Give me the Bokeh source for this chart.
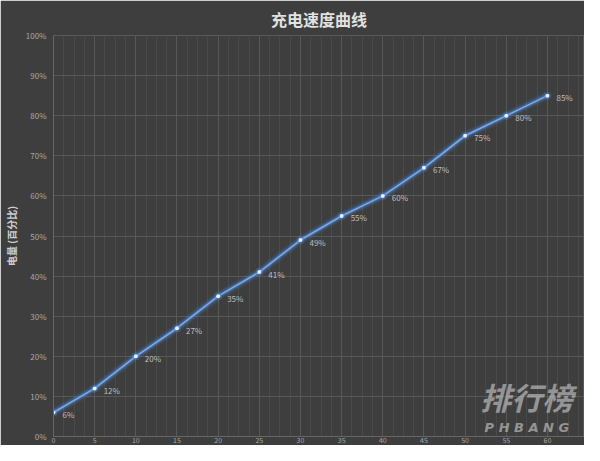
from bokeh.plotting import figure
from bokeh.models import ColumnDataSource, FixedTicker, Label, Range1d
from bokeh.embed import file_html
from bokeh.resources import INLINE
from bokeh.core.properties import value

title_text = "充电速度曲线"
y_label = "电量 (百分比)"
x_labels = ["0", "5", "10", "15", "20", "25", "30", "35", "40", "45", "50", "55", "60"]
charge = [6, 12, 20, 27, 35, 41, 49, 55, 60, 67, 75, 80, 85]
y_ticks = [0, 10, 20, 30, 40, 50, 60, 70, 80, 90, 100]

FONT = "Noto Sans CJK SC"
BG = "#3e3e3e"

xs = list(range(len(charge)))
src = ColumnDataSource(dict(x=xs, y=charge, lab=[f"{v}%" for v in charge]))

p = figure(width=584, height=445, output_backend="svg", toolbar_location=None,
           x_range=Range1d(0, 12.9), y_range=Range1d(0, 100),
           background_fill_color=BG, border_fill_color=BG,
           min_border_left=0, min_border_right=0, min_border_top=0, min_border_bottom=0)

p.title.text = title_text
p.title.align = "center"
p.title.text_font = FONT
p.title.text_font_size = "16px"
p.title.text_font_style = "bold"
p.title.text_color = "#e2e2e2"
p.title.offset = 0
p.title.standoff = 9

p.outline_line_color = "#5a5a5a"

# axes
p.yaxis.ticker = FixedTicker(ticks=y_ticks)
p.yaxis.major_label_overrides = {t: f"{t}%" for t in y_ticks}
p.yaxis.axis_label = y_label
p.yaxis.axis_label_text_font = FONT
p.yaxis.axis_label_text_font_size = "10px"
p.yaxis.axis_label_text_font_style = "bold"
p.yaxis.axis_label_text_color = "#cfcfcf"
p.yaxis.axis_label_standoff = 4
p.xaxis.ticker = FixedTicker(ticks=xs, minor_ticks=[i / 4 for i in range(53)])
p.xaxis.major_label_overrides = {i: s for i, s in enumerate(x_labels)}
for ax in (p.xaxis, p.yaxis):
    ax.major_label_text_font = FONT
    ax.major_label_text_font_size = "8px"
    ax.major_label_text_color = "#a8a8a8"
    ax.axis_line_color = "#666666"
    ax.major_tick_line_color = None
    ax.minor_tick_line_color = None
    ax.major_tick_out = 0
    ax.minor_tick_out = 0
    ax.major_label_standoff = 7
p.xaxis.major_label_standoff = 0
p.xaxis.major_label_text_font_size = "7px"

# grid
p.ygrid.grid_line_color = "#585858"
p.xgrid.grid_line_color = "#585858"
p.xgrid.minor_grid_line_color = "#4a4a4a"

# glowing line
for w, a in [(9, 0.10), (6, 0.18), (4, 0.35)]:
    p.line("x", "y", source=src, line_color="#4a86d6", line_width=w, line_alpha=a)
p.line("x", "y", source=src, line_color="#78aaec", line_width=1.6)
p.scatter("x", "y", source=src, size=8, fill_color="#4a86d6", fill_alpha=0.3, line_color=None)
p.scatter("x", "y", source=src, size=4, fill_color="#e4eefb", line_color=None)

p.text("x", "y", text="lab", source=src, x_offset=9, y_offset=2,
       text_font=value(FONT), text_font_size="8px", text_color="#bdbdbd",
       text_baseline="middle", text_align="left")

# watermark
p.add_layout(Label(x=11.5, y=10.0, text="排行榜", text_font=FONT, text_font_size="31px",
                   text_font_style="bold italic", text_color="#d0d0d0", text_alpha=0.6,
                   text_align="center", text_baseline="middle"))
p.add_layout(Label(x=11.5, y=2.3, text="P H B A N G", text_font="DejaVu Sans",
                   text_font_size="13px", text_font_style="bold italic", text_color="#d0d0d0",
                   text_alpha=0.6, text_align="center", text_baseline="middle"))

open("out.html", "w").write(file_html(p, INLINE))
